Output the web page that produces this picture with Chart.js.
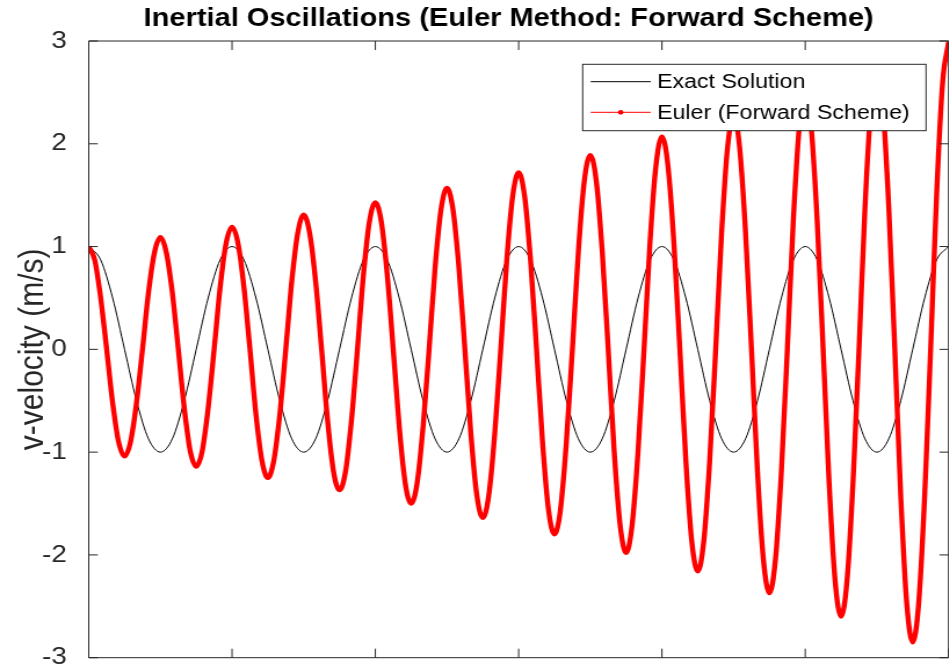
<!DOCTYPE html>
<html><head><meta charset="utf-8">
<script src="https://cdn.jsdelivr.net/npm/chart.js@4.4.1/dist/chart.umd.min.js"></script>
<style>
html,body{margin:0;padding:0;width:949px;height:669px;overflow:hidden;background:#fff;}
#c{position:absolute;left:0;top:0;transform:scaleX(1.16);transform-origin:0 0;}
</style></head><body>
<canvas id="c" width="877" height="700"></canvas>
<script>
const titleText = 'Inertial Oscillations (Euler Method: Forward Scheme)';
const yAxisTitle = 'v-velocity (m/s)';
const seriesNames = ['Exact Solution', 'Euler (Forward Scheme)'];
const yTicks = [-3, -2, -1, 0, 1, 2, 3];
const xTicks = [0, 1, 2, 3, 4, 5, 6];

// Exact solution, read every 1/12 of an oscillation period
const exactStep = 1 / 12;
const exactV = [
  1, 0.87, 0.5, 0, -0.5, -0.87, -1, -0.87, -0.5, 0, 0.5, 0.87,
  1, 0.87, 0.5, 0, -0.5, -0.87, -1, -0.87, -0.5, 0, 0.5, 0.87,
  1, 0.87, 0.5, 0, -0.5, -0.87, -1, -0.87, -0.5, 0, 0.5, 0.87,
  1, 0.87, 0.5, 0, -0.5, -0.87, -1, -0.87, -0.5, 0, 0.5, 0.87,
  1, 0.87, 0.5, 0, -0.5, -0.87, -1, -0.87, -0.5, 0, 0.5, 0.87,
  1, 0.87, 0.5, 0, -0.5, -0.87, -1, -0.87, -0.5, 0, 0.5, 0.87,
  1
];

// Euler forward scheme, read every 1/24 of a period
const eulerStep = 1 / 24;
const eulerV = [
  1.00, 0.87, 0.50, 0, -0.52, -0.90,
  -1.04, -0.90, -0.52, 0, 0.55, 0.94,
  1.09, 0.94, 0.55, 0, -0.57, -0.99,
  -1.14, -0.99, -0.57, 0, 0.60, 1.03,
  1.19, 1.03, 0.60, 0, -0.63, -1.08,
  -1.25, -1.08, -0.63, 0, 0.66, 1.13,
  1.31, 1.13, 0.66, 0, -0.69, -1.19,
  -1.37, -1.19, -0.69, 0, 0.72, 1.24,
  1.43, 1.24, 0.72, 0, -0.75, -1.30,
  -1.50, -1.30, -0.75, 0, 0.79, 1.36,
  1.57, 1.36, 0.79, 0, -0.82, -1.42,
  -1.64, -1.42, -0.82, 0, 0.86, 1.49,
  1.72, 1.49, 0.86, 0, -0.90, -1.56,
  -1.80, -1.56, -0.90, 0, 0.95, 1.64,
  1.89, 1.64, 0.95, 0, -0.99, -1.71,
  -1.98, -1.71, -0.99, 0, 1.04, 1.79,
  2.07, 1.79, 1.04, 0, -1.08, -1.87,
  -2.16, -1.87, -1.08, 0, 1.14, 1.97,
  2.27, 1.97, 1.14, 0, -1.19, -2.05,
  -2.37, -2.05, -1.19, 0, 1.25, 2.16,
  2.49, 2.16, 1.25, 0, -1.30, -2.25,
  -2.60, -2.25, -1.30, 0, 1.37, 2.36,
  2.73, 2.36, 1.37, 0, -1.43, -2.47,
  -2.85, -2.47, -1.43, 0, 1.50, 2.59,
  2.99
];

const FONT = "'Liberation Sans', Arial, Helvetica, sans-serif";
const AXIS_COLOR = '#262626';

const axesBox = {
  id: 'axesBox',
  afterDatasetsDraw(chart) {
    const {ctx, chartArea: a, scales: {x, y}} = chart;
    ctx.save();
    ctx.strokeStyle = AXIS_COLOR;
    ctx.lineWidth = 1;
    const L = a.left, R = a.right, T = a.top, B = a.bottom;
    ctx.beginPath();
    ctx.moveTo(L, T); ctx.lineTo(R, T); ctx.lineTo(R, B); ctx.lineTo(L, B); ctx.closePath();
    xTicks.forEach(t => {
      const px = x.getPixelForValue(t);
      ctx.moveTo(px, B); ctx.lineTo(px, B - 9);
      ctx.moveTo(px, T); ctx.lineTo(px, T + 9);
    });
    yTicks.forEach(v => {
      const py = y.getPixelForValue(v);
      ctx.moveTo(L, py); ctx.lineTo(L + 7.8, py);
      ctx.moveTo(R, py); ctx.lineTo(R - 7.8, py);
    });
    ctx.stroke();
    ctx.restore();
  },
  afterDraw(chart) {
    const {ctx, chartArea: a} = chart;
    const ds = chart.data.datasets;
    const bx1 = a.right - 19.4, bx0 = bx1 - 296;
    const by0 = a.top + 23.3, by1 = by0 + 66.4;
    ctx.save();
    ctx.fillStyle = '#fff';
    ctx.fillRect(bx0, by0, bx1 - bx0, by1 - by0);
    ctx.strokeStyle = AXIS_COLOR;
    ctx.lineWidth = 1;
    ctx.strokeRect(bx0, by0, bx1 - bx0, by1 - by0);
    const rows = [
      {name: seriesNames[0], color: ds[1].borderColor, marker: false, y: by0 + 17.4},
      {name: seriesNames[1], color: ds[0].borderColor, marker: true, y: by0 + 48}
    ];
    ctx.font = '20px ' + FONT;
    ctx.textBaseline = 'middle';
    ctx.textAlign = 'left';
    rows.forEach(r => {
      ctx.strokeStyle = r.color;
      ctx.lineWidth = 1;
      ctx.beginPath();
      ctx.moveTo(bx0 + 6.9, r.y); ctx.lineTo(bx0 + 58.7, r.y);
      ctx.stroke();
      if (r.marker) {
        ctx.fillStyle = r.color;
        ctx.beginPath();
        ctx.arc(bx0 + 32.8, r.y, 2.4, 0, Math.PI * 2);
        ctx.fill();
      }
      ctx.fillStyle = '#000';
      ctx.fillText(r.name, bx0 + 64.1, r.y + 0.8);
    });
    ctx.restore();
  }
};

new Chart(document.getElementById('c'), {
  type: 'line',
  data: {
    datasets: [
      {
        label: seriesNames[1],
        data: eulerV.map((v, i) => ({x: i * eulerStep, y: v})),
        borderColor: '#ff0000',
        borderWidth: 4.4,
        pointRadius: 0,
        cubicInterpolationMode: 'monotone',
        order: 1
      },
      {
        label: seriesNames[0],
        data: exactV.map((v, i) => ({x: i * exactStep, y: v})),
        borderColor: '#000000',
        borderWidth: 1,
        pointRadius: 0,
        cubicInterpolationMode: 'monotone',
        order: 2
      }
    ]
  },
  options: {
    responsive: false,
    animation: false,
    devicePixelRatio: 1,
    layout: {padding: 0},
    scales: {
      x: {
        type: 'linear', min: 0, max: 6,
        ticks: {display: false, stepSize: 1},
        grid: {display: false},
        border: {display: false},
        afterFit(s) { s.height = 42.3; }
      },
      y: {
        type: 'linear', min: -3, max: 3, position: 'left',
        ticks: {stepSize: 1, padding: 11, color: AXIS_COLOR, font: {family: FONT, size: 24}},
        grid: {display: false},
        border: {display: false},
        title: {display: true, text: yAxisTitle, color: AXIS_COLOR, font: {family: FONT, size: 30}, padding: {top: 10.4, bottom: 0}},
        afterFit(s) { s.width = 76.5; }
      },
      yR: {
        type: 'linear', position: 'right', display: true,
        ticks: {display: false},
        grid: {display: false},
        border: {display: false},
        afterFit(s) { s.width = 59.3; }
      }
    },
    plugins: {
      legend: {display: false},
      tooltip: {enabled: false},
      title: {
        display: true, text: titleText, color: '#000',
        font: {family: FONT, size: 25, weight: 'bold'},
        padding: {top: 4, bottom: 7}
      }
    }
  },
  plugins: [axesBox]
});
</script>
</body></html>
